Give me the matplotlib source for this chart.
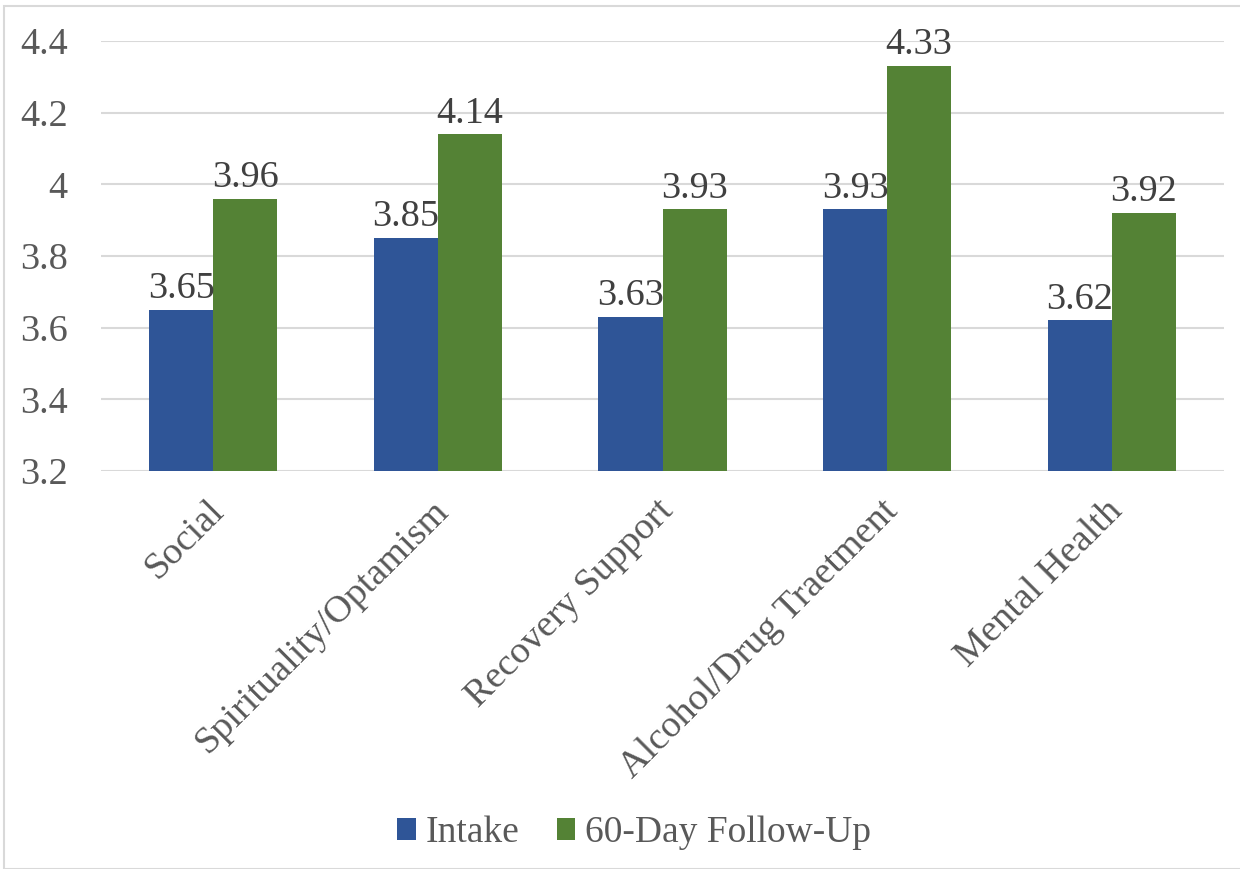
import matplotlib
matplotlib.use("Agg")
import matplotlib.pyplot as plt
import matplotlib.transforms as mtransforms
import numpy as np
from matplotlib.patches import Rectangle

categories = ["Social", "Spirituality/Optamism", "Recovery Support",
              "Alcohol/Drug Traetment", "Mental Health"]
intake = [3.65, 3.85, 3.63, 3.93, 3.62]
follow_up = [3.96, 4.14, 3.93, 4.33, 3.92]
series_names = ["Intake", "60-Day Follow-Up"]
y_ticks = [3.2, 3.4, 3.6, 3.8, 4.0, 4.2, 4.4]
y_tick_labels = ["3.2", "3.4", "3.6", "3.8", "4", "4.2", "4.4"]

BLUE = "#2F5597"
GREEN = "#548235"
TEXT = "#595959"
LABEL = "#404040"
GRID = "#D9D9D9"
FS = 27.5

plt.rcParams["font.family"] = ["Liberation Serif", "DejaVu Serif"]

fig = plt.figure(figsize=(12.4, 8.69), dpi=100)
ax = fig.add_axes([101 / 1240, 1 - 471 / 869, 1123 / 1240, 430 / 869])

# outer chart border
fig.patches.append(Rectangle((4 / 1240, 0), 1.0, 1 - 6 / 869,
                             transform=fig.transFigure, fill=False,
                             edgecolor=GRID, linewidth=1.5))

x = np.arange(len(categories))
w = 0.285
base = 3.2
b1 = ax.bar(x - w / 2, np.array(intake) - base, w, bottom=base, color=BLUE,
            label=series_names[0], zorder=3)
b2 = ax.bar(x + w / 2, np.array(follow_up) - base, w, bottom=base, color=GREEN,
            label=series_names[1], zorder=3)

for xi, v in zip(x - w / 2, intake):
    ax.text(xi, v + 0.01, f"{v:.2f}", ha="center", va="bottom",
            fontsize=FS, color=LABEL, zorder=4)
for xi, v in zip(x + w / 2, follow_up):
    ax.text(xi, v + 0.01, f"{v:.2f}", ha="center", va="bottom",
            fontsize=FS, color=LABEL, zorder=4)

ax.set_xlim(-0.5, len(categories) - 0.5)
ax.set_ylim(3.2, 4.4)
ax.set_yticks(y_ticks)
ax.set_yticklabels(y_tick_labels)
ax.yaxis.grid(True, color=GRID, linewidth=1.5, zorder=0)
ax.tick_params(axis="y", length=0, labelsize=FS, labelcolor=TEXT, pad=24)
ax.set_xticks(x)
ax.set_xticklabels(categories, rotation=45, ha="right", va="top",
                   rotation_mode="anchor", fontsize=FS, color=TEXT)
ax.tick_params(axis="x", length=0, pad=16)
shift = mtransforms.ScaledTranslation(-7 / 100, 0, fig.dpi_scale_trans)
for lab in ax.get_xticklabels():
    lab.set_transform(lab.get_transform() + shift)
for s in ax.spines.values():
    s.set_visible(False)

leg = fig.legend(handles=[b1, b2], labels=series_names, loc="center",
                 bbox_to_anchor=(634 / 1240, 1 - 833 / 869), ncol=2,
                 frameon=False, fontsize=27, handlelength=0.5,
                 handleheight=0.5, handletextpad=0.25, columnspacing=1.0)
for t in leg.get_texts():
    t.set_color(TEXT)

fig.savefig("out.png", dpi=100)
